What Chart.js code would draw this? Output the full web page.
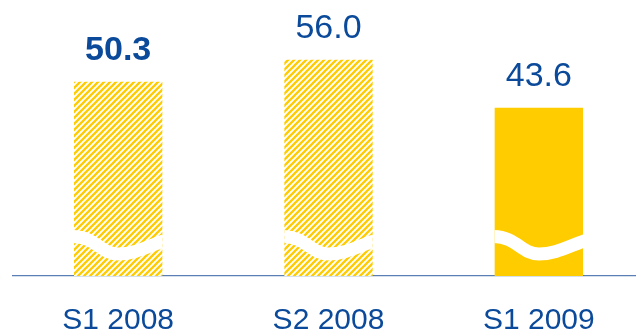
<!DOCTYPE html>
<html>
<head>
<meta charset="utf-8">
<script src="https://cdn.jsdelivr.net/npm/chart.js@4"></script>
<style>
  html, body { margin: 0; padding: 0; background: #fff; overflow: hidden; }
  #wrap { width: 648px; height: 334px; position: relative; }
</style>
</head>
<body>
<div id="wrap"><canvas id="chart"></canvas></div>
<script>
// データ
const periods = ['S1 2008', 'S2 2008', 'S1 2009'];
const values = [50.3, 56.0, 43.6];
const hatched = [true, true, false];     // 斜線の棒
const boldLabels = [true, false, false]; // 太字の値ラベル

const YELLOW = '#FFCC00';
const BLUE = '#0B4A9A';
const FONT = '"Liberation Sans", Arial, sans-serif';

// 黄色と白の斜線パターン
function makeHatch() {
    const s = 6;
    const c = document.createElement('canvas');
    c.width = s; c.height = s;
    const g = c.getContext('2d');
    g.fillStyle = '#fff';
    g.fillRect(0, 0, s, s);
    g.strokeStyle = YELLOW;
    g.lineWidth = 2.3;
    g.beginPath();
    g.moveTo(-1, s + 1); g.lineTo(s + 1, -1);
    g.moveTo(-1, 1); g.lineTo(1, -1);
    g.moveTo(s - 1, s + 1); g.lineTo(s + 1, s - 1);
    g.stroke();
    return g.createPattern(c, 'repeat');
}
const hatch = makeHatch();

// 棒の下部の波線（軸の省略記号）と値ラベル
const decorPlugin = {
    id: 'decor',
    afterDatasetsDraw(chart) {
        const ctx = chart.ctx;
        const meta = chart.getDatasetMeta(0);
        meta.data.forEach((bar, i) => {
            const w = bar.width;
            const left = bar.x - w / 2;
            const right = bar.x + w / 2;
            const b = bar.base;

            ctx.save();
            ctx.beginPath();
            ctx.rect(left, bar.y, w, b - bar.y);
            ctx.clip();
            ctx.strokeStyle = '#fff';
            ctx.lineWidth = 13;
            ctx.beginPath();
            ctx.moveTo(left - 2, b - 39.5);
            ctx.bezierCurveTo(left + 0.25 * w, b - 39.5, left + 0.3 * w, b - 22, left + 0.5 * w, b - 22);
            ctx.bezierCurveTo(left + 0.68 * w, b - 22, left + 0.82 * w, b - 29, right + 2, b - 35.5);
            ctx.stroke();
            ctx.restore();

            ctx.save();
            ctx.fillStyle = BLUE;
            ctx.textAlign = 'center';
            ctx.textBaseline = 'alphabetic';
            ctx.font = (boldLabels[i] ? 'bold ' : '') + '34px ' + FONT;
            ctx.fillText(values[i].toFixed(1), bar.x, bar.y - 22);
            ctx.restore();
        });
    }
};

new Chart(document.getElementById('chart'), {
    type: 'bar',
    data: {
        labels: periods,
        datasets: [{
            data: values,
            backgroundColor: hatched.map(h => h ? hatch : YELLOW),
            borderWidth: 0,
            barPercentage: 0.42,
            categoryPercentage: 1
        }]
    },
    options: {
        responsive: true,
        maintainAspectRatio: false,
        animation: false,
        layout: { padding: { left: 13, right: 4, top: 0, bottom: 0 } },
        plugins: {
            legend: { display: false },
            tooltip: { enabled: false }
        },
        scales: {
            x: {
                z: 1,
                grid: { display: false, drawTicks: false },
                border: { display: true, color: '#5B7FB5', width: 1.2 },
                ticks: {
                    color: BLUE,
                    padding: 30,
                    maxRotation: 0,
                    font: { family: FONT, size: 30, lineHeight: 1 }
                },
                afterFit(scale) { scale.height = 58; }
            },
            y: {
                display: false,
                min: 0,
                max: 71.5
            }
        }
    },
    plugins: [decorPlugin]
});
</script>
</body>
</html>
